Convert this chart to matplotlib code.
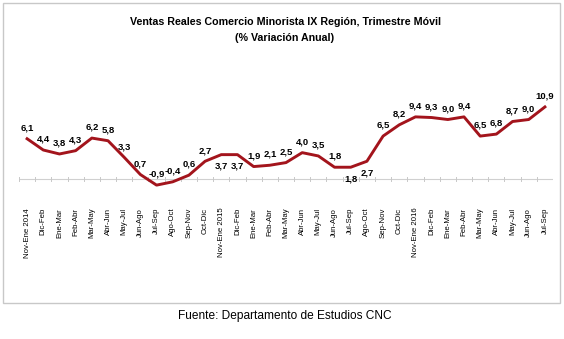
import matplotlib.pyplot as plt
from matplotlib.patches import Rectangle

plt.rcParams["font.family"] = ["Liberation Sans", "DejaVu Sans"]

periodos = [
    "Nov-Ene 2014", "Dic-Feb", "Ene-Mar", "Feb-Abr", "Mar-May", "Abr-Jun",
    "May-Jul", "Jun-Ago", "Jul-Sep", "Ago-Oct", "Sep-Nov", "Oct-Dic",
    "Nov-Ene 2015", "Dic-Feb", "Ene-Mar", "Feb-Abr", "Mar-May", "Abr-Jun",
    "May-Jul", "Jun-Ago", "Jul-Sep", "Ago-Oct", "Sep-Nov", "Oct-Dic",
    "Nov-Ene 2016", "Dic-Feb", "Ene-Mar", "Feb-Abr", "Mar-May", "Abr-Jun",
    "May-Jul", "Jun-Ago", "Jul-Sep",
]
variacion = [
    6.1, 4.4, 3.8, 4.3, 6.2, 5.8, 3.3, 0.7, -0.9, -0.4, 0.6, 2.7,
    3.7, 3.7, 1.9, 2.1, 2.5, 4.0, 3.5, 1.8, 1.8, 2.7, 6.5, 8.2,
    9.4, 9.3, 9.0, 9.4, 6.5, 6.8, 8.7, 9.0, 10.9,
]
# labels drawn under the line for these points
abajo = {12, 13, 20, 21}

fig = plt.figure(figsize=(5.64, 3.39), dpi=100)
W, H = 564, 339

# light frame around the chart area
fig.patches.append(Rectangle((3 / W, 1 - 303 / H), 557 / W, 300 / H,
                             transform=fig.transFigure, fill=False,
                             edgecolor="#c8c8c8", linewidth=1.0))

ax = fig.add_axes([19 / W, 1 - 205 / H, 534 / W, 110 / H])
x = list(range(len(variacion)))
ax.plot(x, variacion, color="#a3141c", linewidth=2.1, solid_joinstyle="round", zorder=3)

for i, v in enumerate(variacion):
    txt = f"{v:.1f}".replace(".", ",")
    if i in abajo:
        ax.annotate(txt, (i, v), xytext=(0, -5), textcoords="offset points",
                    ha="center", va="top", fontsize=6.8, fontweight="bold")
    else:
        ax.annotate(txt, (i, v), xytext=(0, 4.5), textcoords="offset points",
                    ha="center", va="bottom", fontsize=6.8, fontweight="bold")

# zero line with category boundary ticks
ax.axhline(0, color="#d0d0d0", linewidth=0.8, zorder=1)
for b in range(len(variacion) + 1):
    ax.plot([b - 0.5, b - 0.5], [-0.25, 0.25], color="#c8c8c8", linewidth=0.7, zorder=1)

ax.set_xlim(-0.5, len(variacion) - 0.5)
ax.set_ylim(-3.9, 12.7)
ax.set_xticks(x)
ax.set_xticklabels(periodos, rotation=90, fontsize=5.6, va="top", ha="center")
ax.tick_params(axis="x", length=0, pad=2)
ax.set_yticks([])
for s in ax.spines.values():
    s.set_visible(False)

cx = 285 / W
fig.text(cx, 1 - 22 / H, "Ventas Reales Comercio Minorista IX Región, Trimestre Móvil",
         ha="center", va="center", fontsize=7.7, fontweight="bold")
fig.text(cx, 1 - 38 / H, "(% Variación Anual)",
         ha="center", va="center", fontsize=7.7, fontweight="bold")
fig.text(cx, 1 - 316 / H, "Fuente: Departamento de Estudios CNC",
         ha="center", va="center", fontsize=8.6)

fig.savefig("out.png", dpi=100)
